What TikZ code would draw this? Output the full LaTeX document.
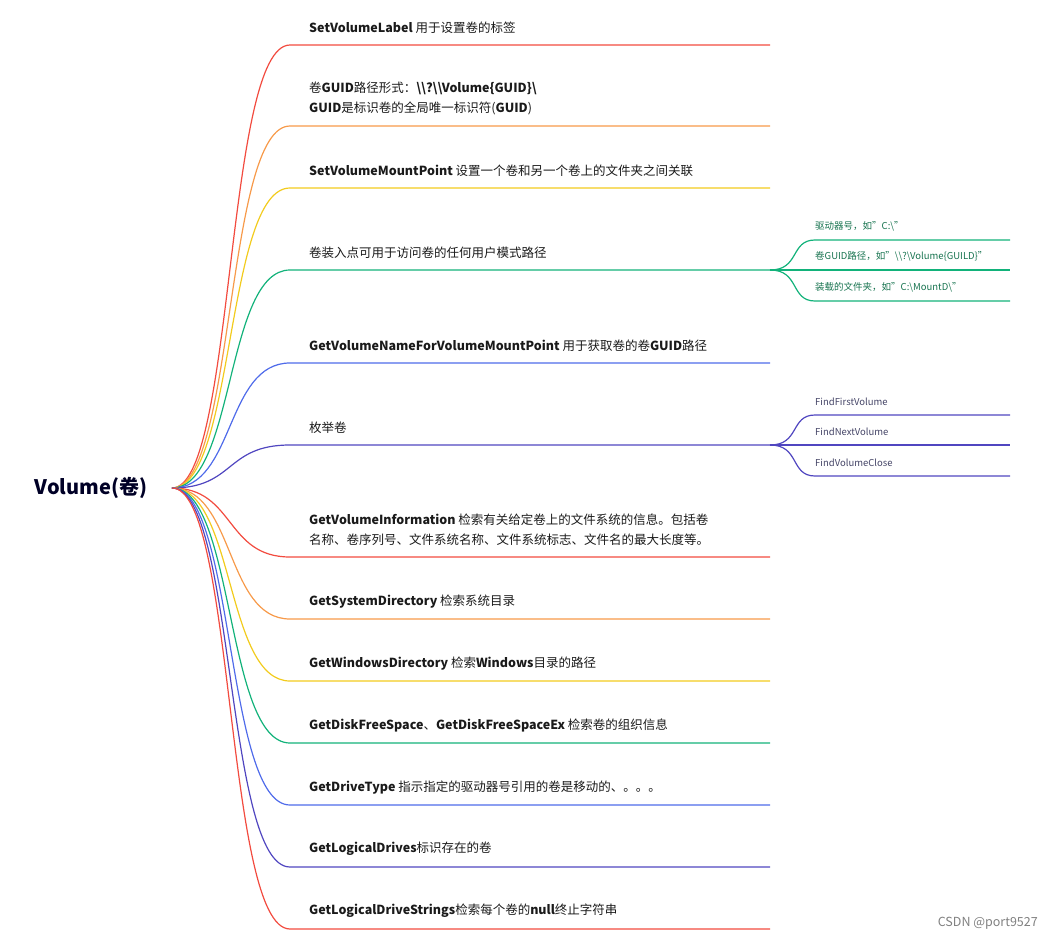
\documentclass[tikz,border=0pt]{standalone}
\usepackage{fontspec}
\setmainfont{Noto Sans CJK SC}
\definecolor{cR}{HTML}{F24B3F}
\definecolor{cO}{HTML}{F79A4A}
\definecolor{cY}{HTML}{F2CB1D}
\definecolor{cG}{HTML}{12B27A}
\definecolor{cB}{HTML}{4F6BEA}
\definecolor{cI}{HTML}{5046C0}
\definecolor{txt}{HTML}{1A1A1A}
\definecolor{gtxt}{HTML}{17734F}
\definecolor{itxt}{HTML}{444466}
\begin{document}
\begin{tikzpicture}[x=1pt,y=-1pt,
  br/.style={line width=1.2pt},
  lab/.style={anchor=south west,inner sep=0pt,font=\fontsize{12.5}{20}\selectfont,text=txt,align=left},
  sub/.style={anchor=south west,inner sep=0pt,font=\fontsize{9.5}{11}\selectfont}]
\useasboundingbox (0,0) rectangle (1052,939);
\node[font=\fontsize{20}{22}\selectfont\bfseries,text=black!85!blue] (root) at (91,488) {Volume(卷)};
\coordinate (r) at (172,488);
\foreach \y/\c/\n in {45/cR/a,126/cO/b,188/cY/c,270/cG/d,363/cB/e,445/cI/f,557/cR/g,619/cO/h,681/cY/i,743/cG/j,805/cB/k,867/cI/l,929/cR/m}{
  \coordinate (e\n) at (770,\y);
  \draw[br,\c] (r) .. controls (235,488) and (225,\y) .. (290,\y) -- (e\n);
}
\foreach \y/\t in {
 45/{\textbf{SetVolumeLabel} 用于设置卷的标签},
 126/{卷\textbf{GUID}路径形式：\textbf{\textbackslash\textbackslash?\textbackslash\textbackslash Volume\{GUID\}\textbackslash}\\\textbf{GUID}是标识卷的全局唯一标识符(\textbf{GUID})},
 188/{\textbf{SetVolumeMountPoint} 设置一个卷和另一个卷上的文件夹之间关联},
 270/{卷装入点可用于访问卷的任何用户模式路径},
 363/{\textbf{GetVolumeNameForVolumeMountPoint} 用于获取卷的卷\textbf{GUID}路径},
 445/{枚举卷},
 557/{\textbf{GetVolumeInformation} 检索有关给定卷上的文件系统的信息。包括卷\\名称、卷序列号、文件系统名称、文件系统标志、文件名的最大长度等。},
 619/{\textbf{GetSystemDirectory} 检索系统目录},
 681/{\textbf{GetWindowsDirectory} 检索\textbf{Windows}目录的路径},
 743/{\textbf{GetDiskFreeSpace}、\textbf{GetDiskFreeSpaceEx} 检索卷的组织信息},
 805/{\textbf{GetDriveType} 指示指定的驱动器号引用的卷是移动的、。。。},
 867/{\textbf{GetLogicalDrives}标识存在的卷},
 929/{\textbf{GetLogicalDriveStrings}检索每个卷的\textbf{null}终止字符串}}{
  \node[lab] at (309,\y-11) {\t};
}
\coordinate (gd) at (770,270);
\coordinate (gf) at (770,445);
\foreach \y/\n/\t in {240/1/{驱动器号，如"C:\textbackslash"},270/2/{卷GUID路径，如"\textbackslash\textbackslash?\textbackslash Volume\{GUILD\}"},301/3/{装载的文件夹，如"C:\textbackslash MountD\textbackslash"}}{
  \coordinate (s\n) at (1010,\y);
  \draw[br,cG] (gd) .. controls (800,270) and (790,\y) .. (815,\y) -- (s\n);
  \node[sub,text=gtxt] at (815,\y-9) {\t};
}
\foreach \y/\n/\t in {415/4/FindFirstVolume,445/5/FindNextVolume,476/6/FindVolumeClose}{
  \coordinate (s\n) at (1010,\y);
  \draw[br,cI] (gf) .. controls (800,445) and (790,\y) .. (815,\y) -- (s\n);
  \node[sub,text=itxt] at (815,\y-9) {\t};
}
\node[anchor=south east,inner sep=0pt,font=\fontsize{12.5}{14}\selectfont,text=gray] (wm) at (1038,930) {CSDN @port9527};
\end{tikzpicture}
\end{document}
